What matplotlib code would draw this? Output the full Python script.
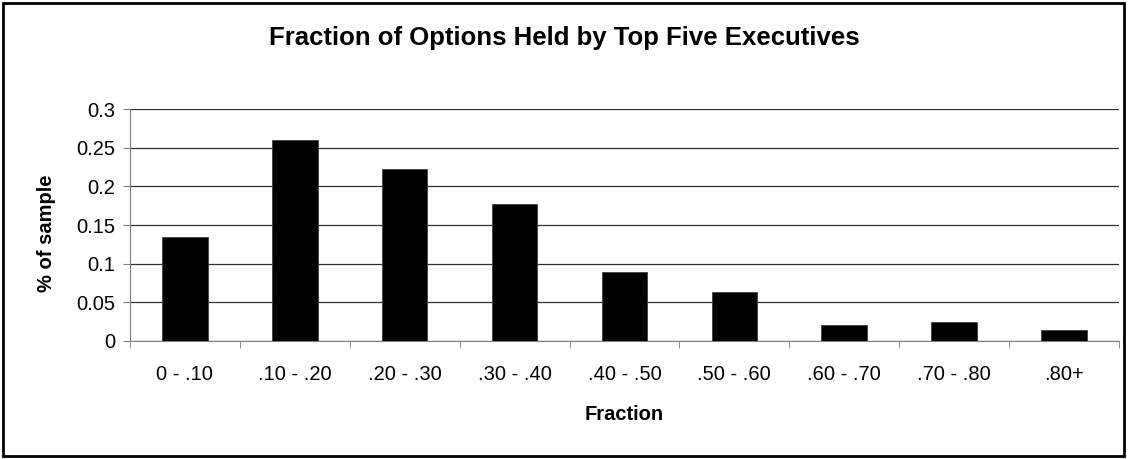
import matplotlib
matplotlib.use('Agg')
import matplotlib.pyplot as plt
from matplotlib.patches import Rectangle
import numpy as np

plt.rcParams['font.family'] = ['Liberation Sans', 'DejaVu Sans']

# 데이터
categories = ['0 - .10', '.10 - .20', '.20 - .30', '.30 - .40', '.40 - .50',
              '.50 - .60', '.60 - .70', '.70 - .80', '.80+']
share = [0.135, 0.26, 0.223, 0.177, 0.089, 0.063, 0.021, 0.024, 0.014]
yticks = [0, 0.05, 0.1, 0.15, 0.2, 0.25, 0.3]
ytick_labels = ['0', '0.05', '0.1', '0.15', '0.2', '0.25', '0.3']

fig = plt.figure(figsize=(11.29, 4.59), dpi=100)
ax = fig.add_axes([0.1151, 0.2571, 0.876, 0.5054])

x = np.arange(len(categories))
ax.bar(x, share, width=0.415, color='black', edgecolor='#404040', linewidth=0.6, zorder=3)

ax.set_xlim(-0.5, len(categories) - 0.5)
ax.set_ylim(0, 0.3)
ax.set_yticks(yticks)
ax.set_yticklabels(ytick_labels, fontsize=14.5)
ax.yaxis.grid(True, color='#303030', linewidth=0.9, zorder=0)

# 카테고리 라벨은 가운데, 눈금은 경계에
ax.set_xticks(x)
ax.set_xticklabels(categories, fontsize=14.5)
ax.set_xticks(np.arange(-0.5, len(categories)), minor=True)
ax.tick_params(axis='x', which='major', length=0, pad=17)
ax.tick_params(axis='x', which='minor', length=5, direction='out', color='#808080')
ax.tick_params(axis='y', length=5, direction='out', color='#808080', pad=5.5)

for s in ['top', 'right']:
    ax.spines[s].set_visible(False)
ax.spines['left'].set_color('#808080')
ax.spines['bottom'].set_color('#808080')

fig.text(0.5, 1 - 38 / 459, 'Fraction of Options Held by Top Five Executives',
         ha='center', va='center', fontsize=18.5, fontweight='bold')
fig.text(0.553, 1 - 415 / 459, 'Fraction', ha='center', va='center',
         fontsize=14.5, fontweight='bold')
fig.text(47 / 1129, 1 - 233 / 459, '% of sample', ha='center', va='center',
         rotation=90, fontsize=14.5, fontweight='bold')

fig.patches.append(Rectangle((0.003, 0.006), 0.993, 0.988, transform=fig.transFigure,
                             fill=False, edgecolor='black', linewidth=2))

fig.savefig('out.png', dpi=100)
